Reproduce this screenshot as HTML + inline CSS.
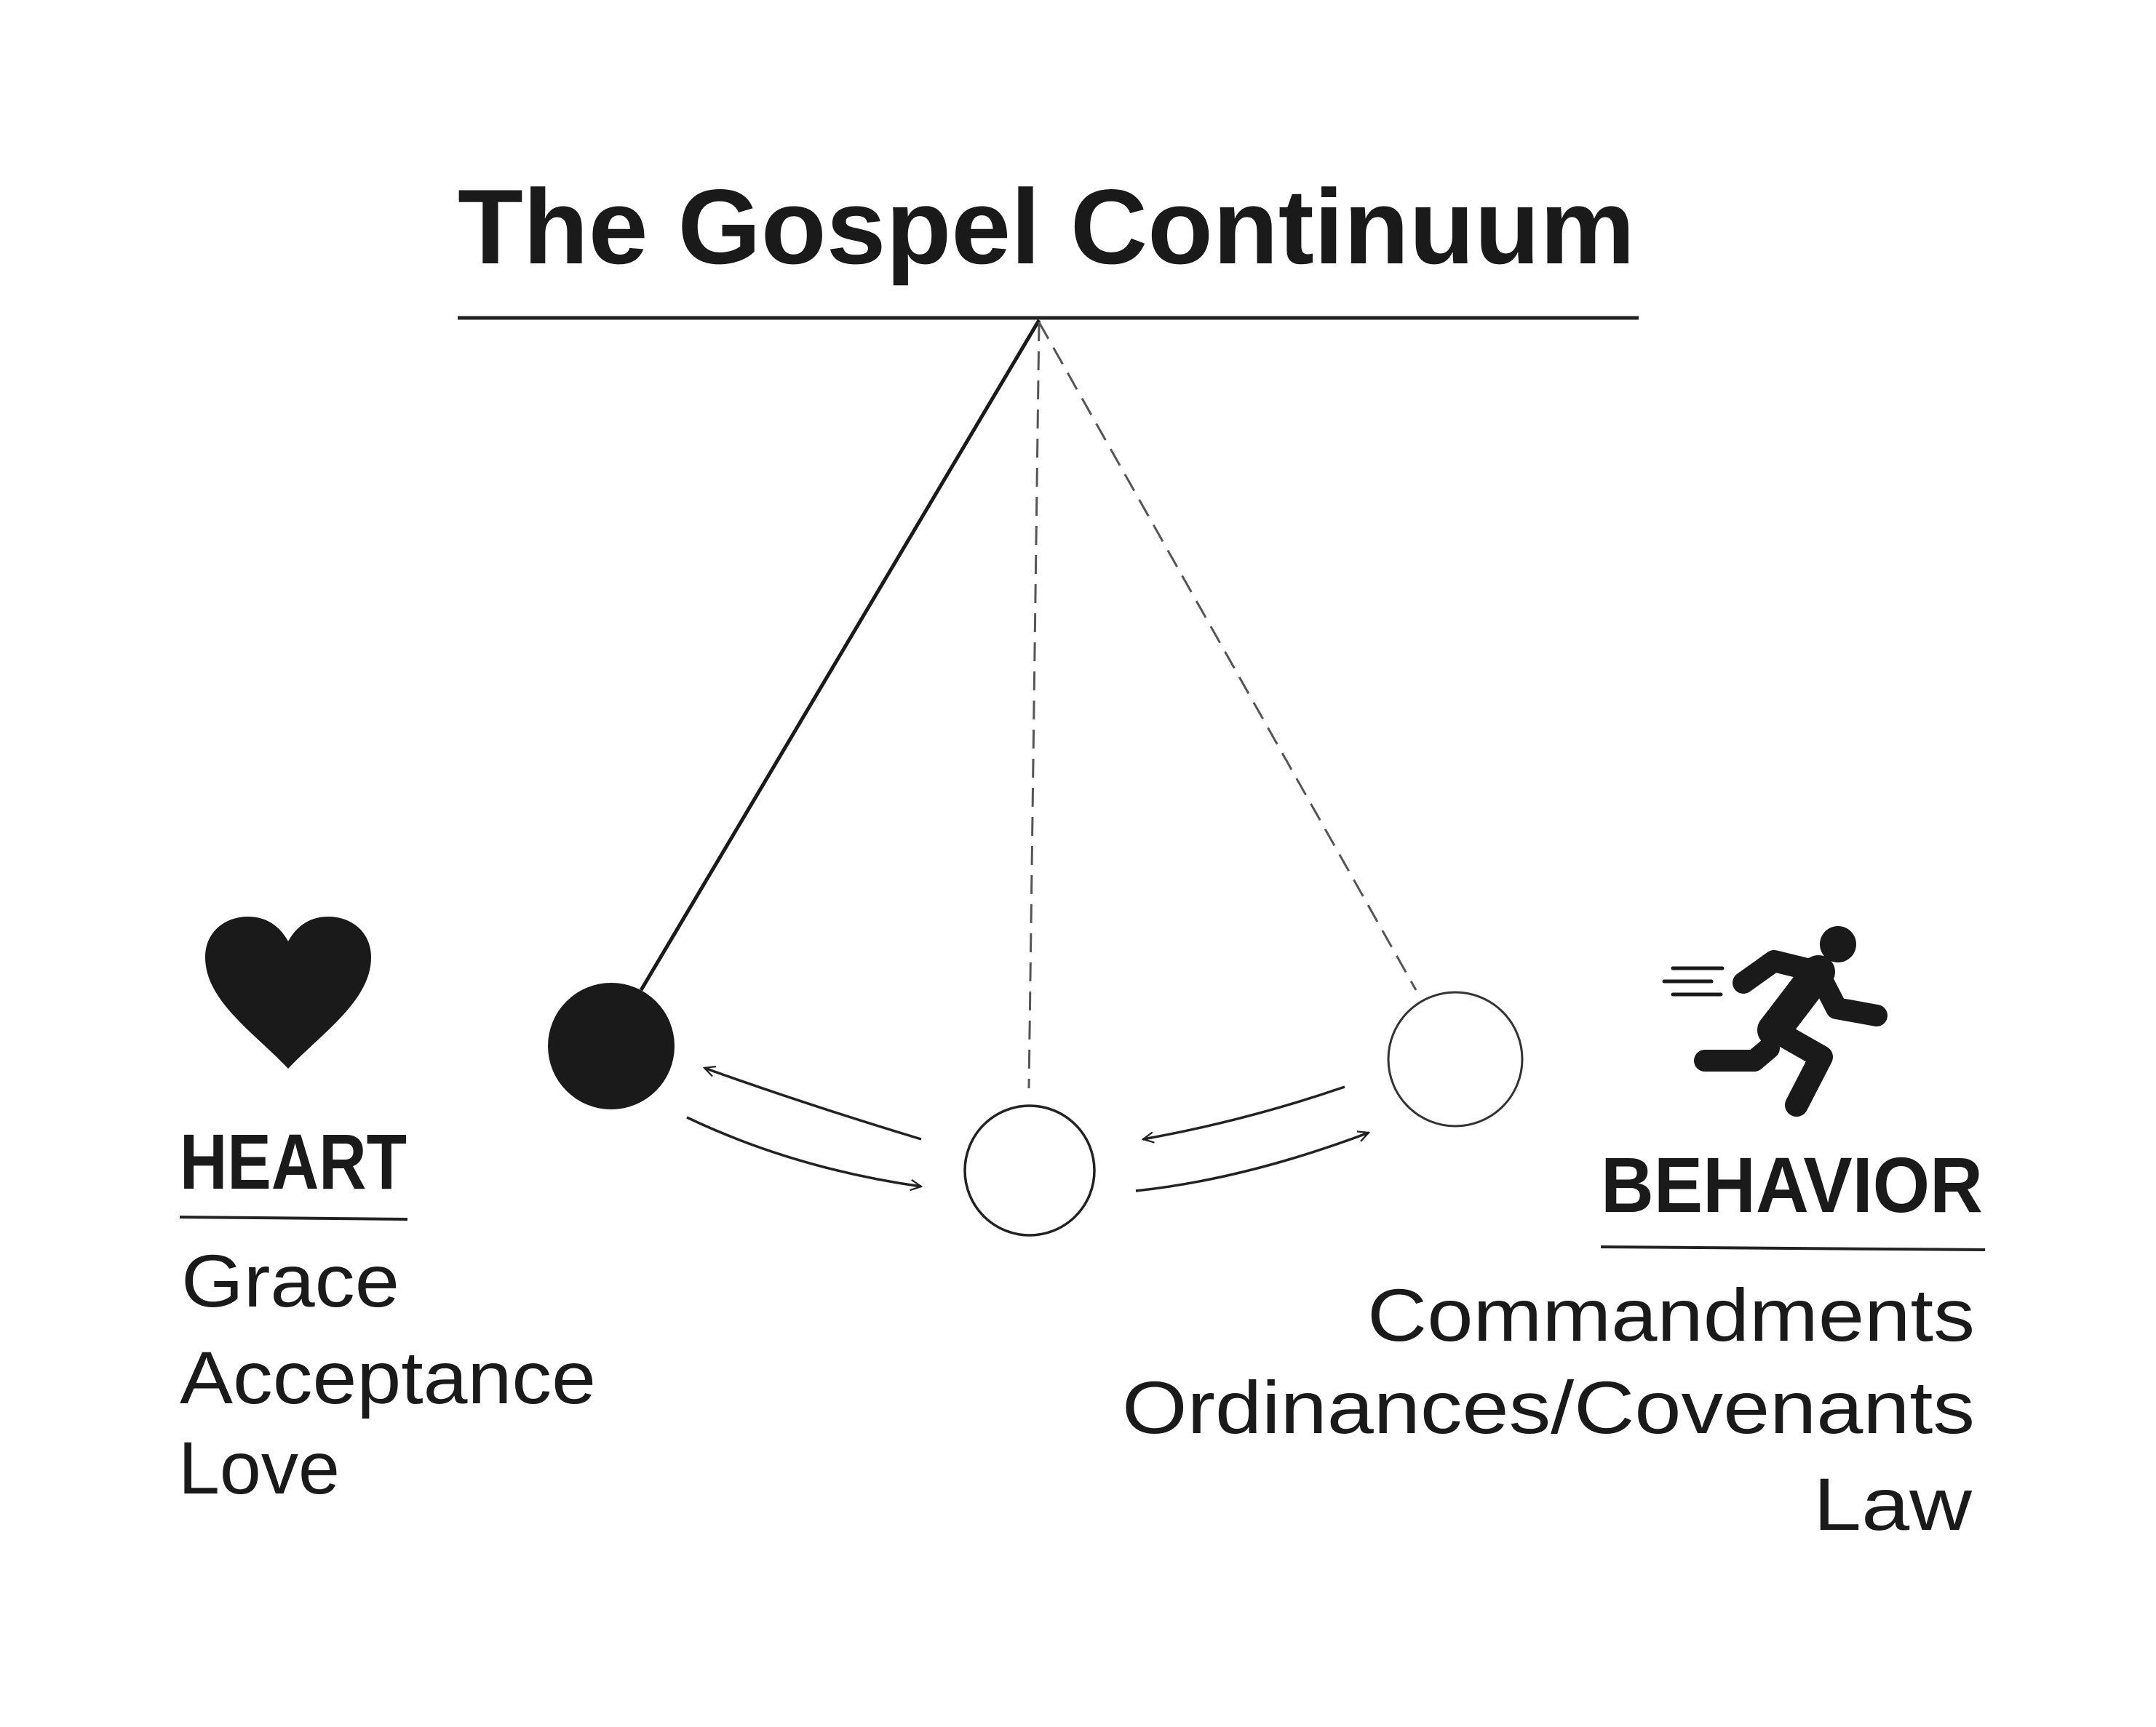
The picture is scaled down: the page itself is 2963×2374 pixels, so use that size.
<!DOCTYPE html>
<html><head><meta charset="utf-8"><style>
html,body{margin:0;padding:0;background:#fff;}
svg{display:block;}
text{font-family:"Liberation Sans",sans-serif;fill:#1a1a1a;}
</style></head><body>
<svg width="2963" height="2374" viewBox="0 0 2963 2374" xmlns="http://www.w3.org/2000/svg">
<defs>
<marker id="ah" viewBox="0 0 20 20" refX="18" refY="10" markerWidth="18" markerHeight="18" markerUnits="userSpaceOnUse" orient="auto">
<path d="M2,2 L18,10 L2,18" fill="none" stroke="#222" stroke-width="2.5"/>
</marker>
</defs>
<g transform="translate(-9,-9)">
<text x="638" y="371" font-size="146" font-weight="bold" textLength="1618" lengthAdjust="spacingAndGlyphs">The Gospel Continuum</text>
<line x1="638" y1="446" x2="2261" y2="446" stroke="#222" stroke-width="5"/>

<line x1="1437" y1="449" x2="890" y2="1370" stroke="#1a1a1a" stroke-width="5"/>
<line x1="1437" y1="452" x2="1423" y2="1505" stroke="#555" stroke-width="3" stroke-dasharray="26,14"/>
<line x1="1437" y1="452" x2="1955" y2="1370" stroke="#555" stroke-width="3" stroke-dasharray="26,14"/>

<circle cx="849" cy="1447" r="87" fill="#1a1a1a"/>
<circle cx="1424" cy="1618" r="89" fill="#fff" stroke="#222" stroke-width="3.5"/>
<circle cx="2009" cy="1465" r="92" fill="#fff" stroke="#333" stroke-width="3"/>

<path d="M1275,1575 Q1110,1525 977,1477" fill="none" stroke="#222" stroke-width="3.5" marker-end="url(#ah)"/>
<path d="M953,1545 Q1100,1615 1275,1640" fill="none" stroke="#222" stroke-width="3.5" marker-end="url(#ah)"/>
<path d="M1857,1503 Q1720,1550 1580,1575" fill="none" stroke="#222" stroke-width="3.5" marker-end="url(#ah)"/>
<path d="M1570,1646 Q1720,1630 1890,1566" fill="none" stroke="#222" stroke-width="3.5" marker-end="url(#ah)"/>

<path d="M405,1478 C360,1430 291,1385 291,1325 C291,1290 318,1269 350,1269 C378,1269 395,1285 405,1303 C415,1285 432,1269 460,1269 C492,1269 519,1290 519,1325 C519,1385 450,1430 405,1478 Z" fill="#1a1a1a"/>

<g stroke="#1a1a1a" stroke-linecap="round" stroke-linejoin="round" fill="none">
<line x1="2308" y1="1340" x2="2376" y2="1340" stroke-width="5"/>
<line x1="2296" y1="1358" x2="2361" y2="1358" stroke-width="5"/>
<line x1="2308" y1="1376" x2="2374" y2="1376" stroke-width="5"/>
<polyline points="2405,1360 2447,1330 2508,1345" stroke-width="30"/>
<polyline points="2508,1345 2470,1395 2447,1425" stroke-width="46"/>
<polyline points="2515,1360 2533,1395 2588,1405" stroke-width="30"/>
<polyline points="2447,1425 2512,1462 2478,1528" stroke-width="32"/>
<polyline points="2440,1450 2420,1467 2352,1467" stroke-width="30"/>
</g>
<circle cx="2535" cy="1307" r="25" fill="#1a1a1a"/>
</g>

<text x="247" y="1634" font-size="108" font-weight="bold" textLength="312" lengthAdjust="spacingAndGlyphs">HEART</text>
<line x1="247" y1="1673" x2="560" y2="1676" stroke="#222" stroke-width="4"/>
<text x="249" y="1796" font-size="102" textLength="300" lengthAdjust="spacingAndGlyphs">Grace</text>
<text x="247" y="1929" font-size="102" textLength="572" lengthAdjust="spacingAndGlyphs">Acceptance</text>
<text x="245" y="2053" font-size="102" textLength="222" lengthAdjust="spacingAndGlyphs">Love</text>

<text x="2200" y="1666" font-size="108" font-weight="bold" textLength="525" lengthAdjust="spacingAndGlyphs">BEHAVIOR</text>
<line x1="2200" y1="1714" x2="2728" y2="1718" stroke="#222" stroke-width="4"/>
<text x="2714" y="1843" font-size="102" text-anchor="end" textLength="835" lengthAdjust="spacingAndGlyphs">Commandments</text>
<text x="2714" y="1970" font-size="102" text-anchor="end" textLength="1172" lengthAdjust="spacingAndGlyphs">Ordinances/Covenants</text>
<text x="2710" y="2103" font-size="102" text-anchor="end" textLength="218" lengthAdjust="spacingAndGlyphs">Law</text>
</svg>
</body></html>
